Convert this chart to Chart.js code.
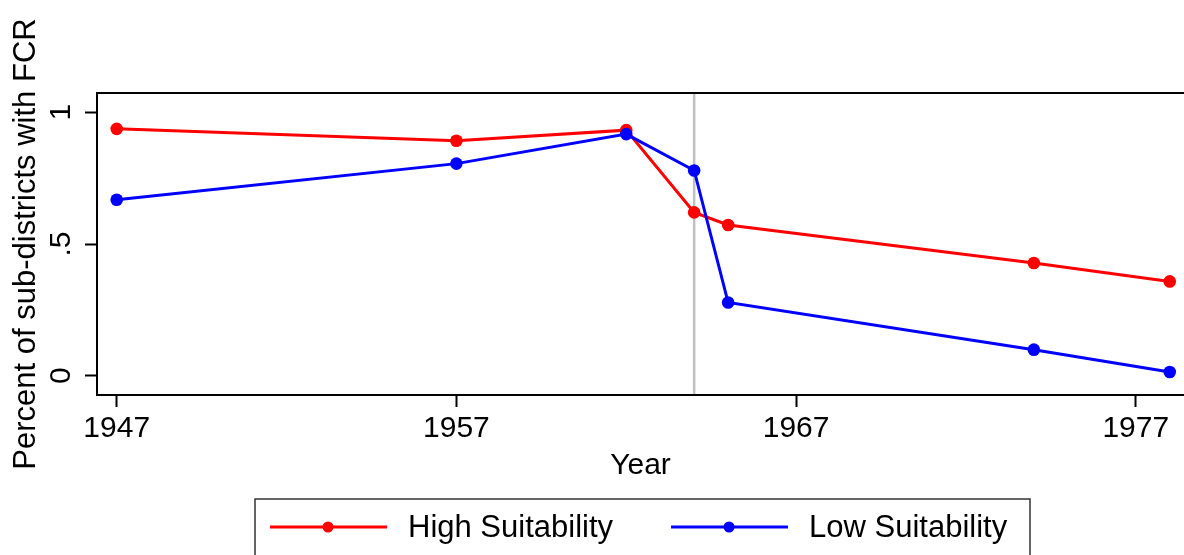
<!DOCTYPE html>
<html>
<head>
<meta charset="utf-8">
<script src="https://cdn.jsdelivr.net/npm/chart.js@4.4.1/dist/chart.umd.min.js"></script>
<style>
  html, body { margin: 0; padding: 0; background: #fff; }
  #wrap { width: 1184px; height: 555px; }
</style>
</head>
<body>
<div id="wrap"><canvas id="fcrChart" width="1184" height="555"></canvas></div>
<script>
// values
const years = [1947, 1957, 1962, 1964, 1965, 1974, 1978];
const highSuit = [0.937, 0.892, 0.932, 0.62, 0.572, 0.428, 0.358];
const lowSuit = [0.668, 0.805, 0.917, 0.779, 0.278, 0.099, 0.014];
const seriesNames = ['High Suitability', 'Low Suitability'];
const seriesColors = ['#ff0000', '#0000ff'];
const xTicks = [1947, 1957, 1967, 1977];
const yTicks = [0, 0.5, 1];
const yTickLabels = ['0', '.5', '1'];
const breakYear = 1964;

const FONT = "'Liberation Sans', Arial, Helvetica, sans-serif";
Chart.defaults.font.family = FONT;
Chart.defaults.color = '#000';

// gray vertical line under the series
const breakLine = {
    id: 'breakLine',
    beforeDatasetsDraw(chart) {
        const { ctx, chartArea, scales } = chart;
        const x = scales.x.getPixelForValue(breakYear);
        ctx.save();
        ctx.strokeStyle = '#c0c0c0';
        ctx.lineWidth = 2.5;
        ctx.beginPath();
        ctx.moveTo(x, chartArea.top);
        ctx.lineTo(x, chartArea.bottom);
        ctx.stroke();
        ctx.restore();
    }
};

// plot frame (right side falls off the picture)
const frame = {
    id: 'frame',
    afterDraw(chart) {
        const { ctx, chartArea: a } = chart;
        ctx.save();
        ctx.strokeStyle = '#000';
        ctx.lineWidth = 2;
        ctx.beginPath();
        ctx.moveTo(a.right + 2, a.top);
        ctx.lineTo(a.left, a.top);
        ctx.lineTo(a.left, a.bottom);
        ctx.lineTo(a.right + 2, a.bottom);
        ctx.stroke();
        ctx.restore();
    }
};

// stata-like legend box: line + marker + label
const boxLegend = {
    id: 'boxLegend',
    afterDraw(chart) {
        const { ctx } = chart;
        ctx.save();
        ctx.strokeStyle = '#333';
        ctx.lineWidth = 1.5;
        ctx.strokeRect(255, 499, 775, 80);
        ctx.font = '31px ' + FONT;
        ctx.textBaseline = 'middle';
        ctx.fillStyle = '#000';
        let x = 270;
        const y = 527;
        chart.data.datasets.forEach(ds => {
            ctx.strokeStyle = ds.borderColor;
            ctx.lineWidth = 3;
            ctx.beginPath();
            ctx.moveTo(x, y);
            ctx.lineTo(x + 117, y);
            ctx.stroke();
            ctx.fillStyle = ds.borderColor;
            ctx.beginPath();
            ctx.arc(x + 58, y, 5.5, 0, Math.PI * 2);
            ctx.fill();
            ctx.fillStyle = '#000';
            ctx.textAlign = 'left';
            ctx.fillText(ds.label, x + 138, y + 1);
            x += 138 + ctx.measureText(ds.label).width + 58;
        });
        ctx.restore();
    }
};

const ctx = document.getElementById('fcrChart').getContext('2d');
new Chart(ctx, {
    type: 'line',
    data: {
        datasets: [
            {
                label: seriesNames[0],
                data: years.map((yr, i) => ({ x: yr, y: highSuit[i] })),
                borderColor: seriesColors[0],
                backgroundColor: seriesColors[0],
                order: 2
            },
            {
                label: seriesNames[1],
                data: years.map((yr, i) => ({ x: yr, y: lowSuit[i] })),
                borderColor: seriesColors[1],
                backgroundColor: seriesColors[1],
                order: 1
            }
        ]
    },
    options: {
        responsive: false,
        animation: false,
        devicePixelRatio: 1,
        layout: { autoPadding: false, padding: { top: 93, right: 0, left: 0, bottom: 0 } },
        elements: {
            line: { borderWidth: 3, tension: 0 },
            point: { radius: 6.3, hoverRadius: 6.3, borderWidth: 0 }
        },
        plugins: {
            legend: { display: false },
            tooltip: { enabled: false }
        },
        scales: {
            x: {
                type: 'linear',
                min: 1946.42,
                max: 1978.42,
                afterBuildTicks: s => { s.ticks = xTicks.map(v => ({ value: v })); },
                afterFit: s => {
                    s.height = 160;
                    s.paddingLeft = 0;
                    s.paddingRight = 0;
                },
                ticks: {
                    font: { size: 30 },
                    padding: 4,
                    maxRotation: 0,
                    callback: v => String(v)
                },
                grid: {
                    drawOnChartArea: false,
                    drawTicks: true,
                    tickLength: 12,
                    tickWidth: 2,
                    tickColor: '#000'
                },
                border: { display: false },
                title: {
                    display: true,
                    text: 'Year',
                    font: { size: 30 },
                    padding: { top: 0, bottom: 71 }
                }
            },
            y: {
                type: 'linear',
                min: -0.073,
                max: 1.073,
                afterBuildTicks: s => { s.ticks = yTicks.map(v => ({ value: v })); },
                afterFit: s => {
                    s.width = 97;
                    s.paddingTop = 0;
                    s.paddingBottom = 0;
                },
                ticks: {
                    font: { size: 30 },
                    padding: 11,
                    minRotation: 90,
                    maxRotation: 90,
                    crossAlign: 'center',
                    callback: v => yTickLabels[yTicks.indexOf(v)]
                },
                grid: {
                    drawOnChartArea: false,
                    drawTicks: true,
                    tickLength: 12,
                    tickWidth: 2,
                    tickColor: '#000'
                },
                border: { display: false },
                title: {
                    display: true,
                    text: 'Percent of sub-districts with FCR',
                    font: { size: 31 },
                    padding: { top: 8, bottom: 0 }
                }
            }
        }
    },
    plugins: [breakLine, frame, boxLegend]
});
</script>
</body>
</html>
